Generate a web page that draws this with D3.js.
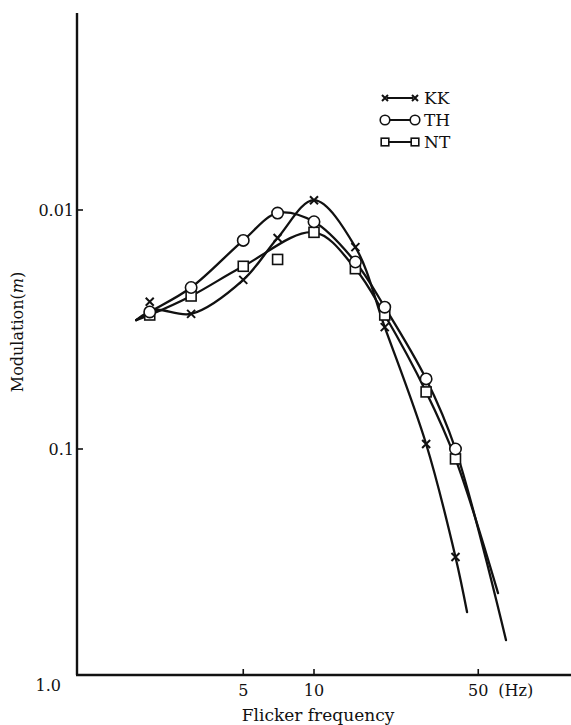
<!DOCTYPE html>
<html>
<head>
<meta charset="utf-8">
<script src="https://cdn.jsdelivr.net/npm/d3@7"></script>
<style>
  body { margin: 0; background: #fff; }
  text { font-family: "DejaVu Serif", "Liberation Serif", serif; fill: #111; }
</style>
</head>
<body>
<div id="chart"></div>
<script>
/* flicker sensitivity curves, log-log, modulation axis inverted */

let freqs = [2, 3, 5, 7, 10, 15, 20, 30, 40];
let kkVals = [0.0242, 0.0272, 0.0196, 0.0131, 0.0091, 0.0143, 0.0309, 0.0953, 0.283];
let thVals = [0.0267, 0.0211, 0.0134, 0.0103, 0.0112, 0.0165, 0.0255, 0.0509, 0.100];
let ntVals = [0.0275, 0.0229, 0.0172, 0.0161, 0.0124, 0.0176, 0.0275, 0.0577, 0.110];

// hand drawn smooth curves (freq, modulation)
let kkCurve = [[1.75, 0.0289], [2.1, 0.0262], [3, 0.0272], [5, 0.0196], [7, 0.0131], [10, 0.0091],
    [15, 0.0143], [20, 0.0309], [30, 0.0953], [40, 0.283], [44.8, 0.481]];
let thCurve = [[1.75, 0.0289], [2, 0.0267], [3, 0.0211], [5, 0.0134], [7, 0.0103], [10, 0.0112],
    [15, 0.0165], [20, 0.0255], [30, 0.0509], [40, 0.100], [65.6, 0.630]];
let ntCurve = [[1.75, 0.0289], [2, 0.0275], [3, 0.0229], [5, 0.0172], [10, 0.0124],
    [15, 0.0176], [20, 0.0275], [30, 0.0577], [40, 0.110], [60.7, 0.401]];

let xTicks = [5, 10, 50];
let xTickLabels = ["5", "10", "50"];
let yTicks = [0.01, 0.1, 1.0];
let yTickLabels = ["0.01", "0.1", "1.0"];
let seriesNames = ["KK", "TH", "NT"];

let width = 571, height = 725;
let axisLeft = 77, axisBottom = 675, axisTop = 13;

let x = d3.scaleLog().domain([1, 100]).range([79, 549]);
let y = d3.scaleLog().domain([0.01, 1]).range([210, 688]);

let svg = d3.select("#chart")
    .append("svg")
    .attr("width", width)
    .attr("height", height);

// axes frame
svg.append("line")
    .attr("x1", axisLeft).attr("x2", axisLeft)
    .attr("y1", axisTop).attr("y2", axisBottom)
    .attr("stroke", "#111").attr("stroke-width", 2.4);
svg.append("line")
    .attr("x1", axisLeft - 1).attr("x2", width)
    .attr("y1", axisBottom).attr("y2", axisBottom)
    .attr("stroke", "#111").attr("stroke-width", 2.4);

// y ticks (pointing inward)
yTicks.forEach(function (t, i) {
    if (t < 1) {
        svg.append("line")
            .attr("x1", axisLeft).attr("x2", axisLeft + 6)
            .attr("y1", y(t)).attr("y2", y(t))
            .attr("stroke", "#111").attr("stroke-width", 1.6);
    }
    svg.append("text")
        .attr("x", t < 1 ? axisLeft - 3 : axisLeft - 16)
        .attr("y", t < 1 ? y(t) : 685)
        .attr("dy", "0.35em")
        .attr("text-anchor", "end")
        .attr("font-size", 16)
        .text(yTickLabels[i]);
});

// x ticks (pointing up)
xTicks.forEach(function (t, i) {
    svg.append("line")
        .attr("x1", x(t)).attr("x2", x(t))
        .attr("y1", axisBottom).attr("y2", axisBottom - 6)
        .attr("stroke", "#111").attr("stroke-width", 1.6);
    svg.append("text")
        .attr("x", x(t))
        .attr("y", 690)
        .attr("dy", "0.35em")
        .attr("text-anchor", "middle")
        .attr("font-size", 16)
        .text(xTickLabels[i]);
});
svg.append("text")
    .attr("x", x(50) + 20)
    .attr("y", 690)
    .attr("dy", "0.35em")
    .attr("font-size", 16)
    .text("(Hz)");

svg.append("text")
    .attr("x", 318)
    .attr("y", 715)
    .attr("dy", "0.35em")
    .attr("text-anchor", "middle")
    .attr("font-size", 17)
    .text("Flicker frequency");

let yLab = svg.append("text")
    .attr("transform", "translate(17,332) rotate(-90)")
    .attr("dy", "0.35em")
    .attr("text-anchor", "middle")
    .attr("font-size", 16);
yLab.append("tspan").text("Modulation(");
yLab.append("tspan").attr("font-style", "italic").text("m");
yLab.append("tspan").text(")");

// curves
let line = d3.line()
    .x(function (d) { return x(d[0]); })
    .y(function (d) { return y(d[1]); })
    .curve(d3.curveCatmullRom.alpha(0.5));

[kkCurve, thCurve, ntCurve].forEach(function (c) {
    svg.append("path")
        .datum(c)
        .attr("d", line)
        .attr("fill", "none")
        .attr("stroke", "#111")
        .attr("stroke-width", 2.3)
        .attr("stroke-linecap", "round");
});

// markers
let drawMarker = function (g, kind, cx, cy, s) {
    if (kind === "x") {
        g.append("path")
            .attr("d", "M" + (cx - s) + "," + (cy - s) + "L" + (cx + s) + "," + (cy + s) +
                "M" + (cx - s) + "," + (cy + s) + "L" + (cx + s) + "," + (cy - s))
            .attr("stroke", "#111").attr("stroke-width", 2).attr("fill", "none");
    } else if (kind === "o") {
        g.append("circle")
            .attr("cx", cx).attr("cy", cy).attr("r", s + 1.5)
            .attr("fill", "#fff").attr("stroke", "#111").attr("stroke-width", 1.6);
    } else {
        g.append("rect")
            .attr("x", cx - s).attr("y", cy - s)
            .attr("width", 2 * s).attr("height", 2 * s)
            .attr("fill", "#fff").attr("stroke", "#111").attr("stroke-width", 1.6);
    }
};

let markerGroup = svg.append("g").attr("id", "markers");
let seriesList = [
    {vals: kkVals, kind: "x", size: 4},
    {vals: thVals, kind: "o", size: 4.2},
    {vals: ntVals, kind: "s", size: 5}
];
// draw squares first, then circles, then crosses on top
[2, 1, 0].forEach(function (k) {
    let s = seriesList[k];
    s.vals.forEach(function (v, i) {
        drawMarker(markerGroup, s.kind, x(freqs[i]), y(v), s.size);
    });
});

// legend
let legendRows = [98, 120, 142];
let legendKinds = ["x", "o", "s"];
let legendSizes = [3, 3.3, 3.8];
seriesNames.forEach(function (n, i) {
    let ly = legendRows[i];
    svg.append("line")
        .attr("x1", 387).attr("x2", 413)
        .attr("y1", ly).attr("y2", ly)
        .attr("stroke", "#111").attr("stroke-width", 2);
    drawMarker(svg, legendKinds[i], 385, ly, legendSizes[i]);
    drawMarker(svg, legendKinds[i], 415, ly, legendSizes[i]);
    svg.append("text")
        .attr("x", 424)
        .attr("y", ly)
        .attr("dy", "0.36em")
        .attr("font-size", 17)
        .text(n);
});
</script>
</body>
</html>
